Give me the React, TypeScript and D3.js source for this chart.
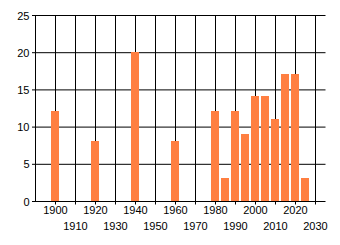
import React from "react";
import * as d3 from "d3";

const years = [1900, 1920, 1940, 1960, 1980, 1985, 1990, 1995, 2000, 2005, 2010, 2015, 2020, 2025];
const values = [12, 8, 20, 8, 12, 3, 12, 9, 14, 14, 11, 17, 17, 3];
const xTicks = [1900, 1910, 1920, 1930, 1940, 1950, 1960, 1970, 1980, 1990, 2000, 2010, 2020, 2030];
const yTicks = [0, 5, 10, 15, 20, 25];

export default function App() {
  const x = d3.scaleLinear().domain([1890, 2035]).range([35.5, 325.5]);
  const y = d3.scaleLinear().domain([0, 25]).range([201.5, 15.5]);
  const font = "'Liberation Sans', Arial, sans-serif";
  return (
    <svg width={340} height={245} style={{ position: "absolute", left: 0, top: 0 }}>
      <rect width={340} height={245} fill="#fff" />
      {yTicks.map((t) => (
        <g key={"y" + t}>
          <line x1={32} x2={x.range()[1]} y1={y(t)} y2={y(t)} stroke="#000" />
          <text x={29.5} y={y(t) + 4} fontSize={11} fontFamily={font} textAnchor="end" fill="#000">{t}</text>
        </g>
      ))}
      <line x1={x(1890)} x2={x(1890)} y1={y(25)} y2={y(0)} stroke="#000" />
      {xTicks.map((t, i) => (
        <g key={"x" + t}>
          <line x1={x(t)} x2={x(t)} y1={y(25)} y2={y(0) + 3} stroke="#000" />
          <text x={x(t)} y={i % 2 === 0 ? 214 : 230} fontSize={11} fontFamily={font} textAnchor="middle" fill="#000">{t}</text>
        </g>
      ))}
      {years.map((yr, i) => (
        <rect key={yr} x={x(yr) - 4.5} width={8} y={y(values[i]) - 1} height={y(0) - 0.5 - y(values[i]) + 1} fill="#ff7f41" shapeRendering="crispEdges" />
      ))}
    </svg>
  );
}
